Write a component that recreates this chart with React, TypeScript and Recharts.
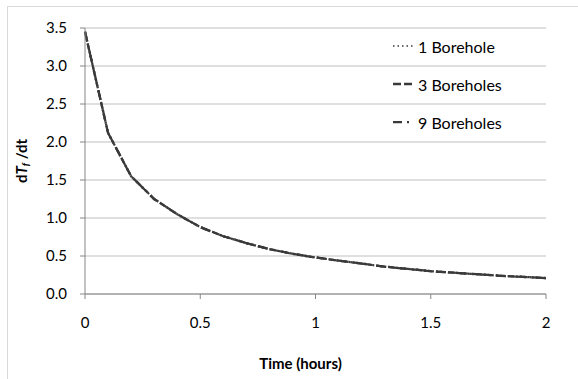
import { LineChart, Line, XAxis, YAxis, CartesianGrid, Legend, Label } from "recharts";

const timeHours = [0, 0.1, 0.2, 0.3, 0.4, 0.5, 0.6, 0.7, 0.8, 0.9, 1.0, 1.1, 1.2, 1.3, 1.4, 1.5, 1.6, 1.7, 1.8, 1.9, 2.0];
const oneBorehole = [3.45, 2.12, 1.55, 1.25, 1.05, 0.88, 0.76, 0.67, 0.59, 0.53, 0.48, 0.44, 0.4, 0.36, 0.33, 0.3, 0.28, 0.26, 0.24, 0.225, 0.21];
const threeBoreholes = [3.45, 2.12, 1.55, 1.25, 1.05, 0.88, 0.76, 0.67, 0.59, 0.53, 0.48, 0.44, 0.4, 0.36, 0.33, 0.3, 0.28, 0.26, 0.24, 0.225, 0.21];
const nineBoreholes = [3.45, 2.12, 1.55, 1.25, 1.05, 0.88, 0.76, 0.67, 0.59, 0.53, 0.48, 0.44, 0.4, 0.36, 0.33, 0.3, 0.28, 0.26, 0.24, 0.225, 0.21];
const xTicks = [0, 0.5, 1, 1.5, 2];
const yTicks = [0, 0.5, 1, 1.5, 2, 2.5, 3, 3.5];

const series = [
  { key: "b1", name: "1 Borehole", dash: "2 2", legendDash: "1.5 3", legendWidth: 1.5 },
  { key: "b3", name: "3 Boreholes", dash: "8 4", legendDash: "8 3", legendWidth: 2.5 },
  { key: "b9", name: "9 Boreholes", dash: "10 4 2 4", legendDash: "9 5 2 6", legendWidth: 2.25 },
];

const data = timeHours.map((t, i) => ({
  t,
  b1: oneBorehole[i],
  b3: threeBoreholes[i],
  b9: nineBoreholes[i],
}));

const FONT = "Lato, 'Open Sans', sans-serif";
const LINE = "#3a3a3a";

function LegendBox() {
  return (
    <div style={{ fontFamily: FONT, fontSize: 16, color: "#000" }}>
      {series.map((s) => (
        <div key={s.key} style={{ display: "flex", alignItems: "center", height: 38 }}>
          <svg width={24} height={10} style={{ marginRight: 3 }}>
            <line
              x1={2}
              y1={5}
              x2={23}
              y2={5}
              stroke={LINE}
              strokeWidth={s.legendWidth}
              strokeDasharray={s.legendDash}
            />
          </svg>
          <span>{s.name}</span>
        </div>
      ))}
    </div>
  );
}

export default function App() {
  return (
    <div
      style={{
        position: "absolute",
        left: 7,
        top: 6,
        width: 590,
        height: 390,
        border: "1px solid #d9d9d9",
        boxSizing: "border-box",
        background: "#fff",
      }}
    >
      <LineChart
        width={570}
        height={372}
        data={data}
        margin={{ top: 21, right: 32, left: 0, bottom: 55 }}
        style={{ fontFamily: FONT }}
      >
        <CartesianGrid vertical={false} stroke="#bfbfbf" strokeWidth={1} />
        <XAxis
          dataKey="t"
          type="number"
          domain={[0, 2]}
          ticks={xTicks}
          tickFormatter={(v: number) => String(v)}
          height={30}
          tick={{ fill: "#000", fontSize: 15 }}
          axisLine={{ stroke: "#868686" }}
          tickLine={{ stroke: "#868686" }}
          tickSize={5}
          tickMargin={18}
        >
          <Label
            content={({ viewBox }: any) => (
              <text
                x={viewBox.x + viewBox.width / 2 - 15}
                y={358}
                textAnchor="middle"
                dominantBaseline="middle"
                fontFamily={FONT}
                fontSize={15}
                fontWeight="bold"
                fill="#000"
              >
                Time (hours)
              </text>
            )}
          />
        </XAxis>
        <YAxis
          type="number"
          domain={[0, 3.5]}
          ticks={yTicks}
          tickFormatter={(v: number) => v.toFixed(1)}
          width={77}
          tick={{ fill: "#000", fontSize: 15 }}
          axisLine={{ stroke: "#868686" }}
          tickLine={{ stroke: "#868686" }}
          tickSize={5}
          tickMargin={13}
        >
          <Label
            content={({ viewBox }: any) => {
              const cx = 15;
              const cy = viewBox.y + viewBox.height / 2;
              return (
                <text
                  x={cx}
                  y={cy}
                  transform={`rotate(-90 ${cx} ${cy})`}
                  textAnchor="middle"
                  dominantBaseline="middle"
                  fontFamily={FONT}
                  fontSize={15}
                  fontWeight="bold"
                  fill="#000"
                >
                  <tspan>d</tspan>
                  <tspan fontStyle="italic">T</tspan>
                  <tspan fontStyle="italic" fontSize={10} dy={3}>f</tspan>
                  <tspan dy={-3}> /dt</tspan>
                </text>
              );
            }}
          />
        </YAxis>
        <Legend
          layout="vertical"
          verticalAlign="middle"
          align="center"
          content={() => <LegendBox />}
          wrapperStyle={{ position: "absolute", left: 383, top: 20, width: 150, margin: 0 }}
        />
        {series.map((s) => (
          <Line
            key={s.key}
            type="linear"
            dataKey={s.key}
            name={s.name}
            stroke={LINE}
            strokeWidth={2.25}
            strokeDasharray={s.dash}
            dot={false}
            activeDot={false}
            isAnimationActive={false}
          />
        ))}
      </LineChart>
    </div>
  );
}
